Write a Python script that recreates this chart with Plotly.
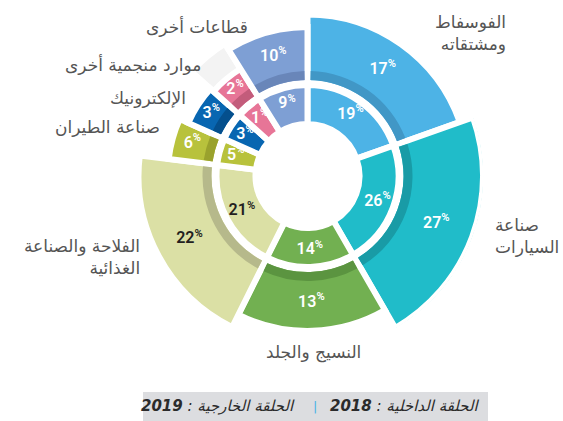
import math
import plotly.graph_objects as go

# ---------------- data ----------------
categories = ["الفوسفاط ومشتقاته", "صناعة السيارات", "النسيج والجلد",
              "الفلاحة والصناعة الغذائية", "صناعة الطيران", "الإلكترونيك",
              "موارد منجمية أخرى", "قطاعات أخرى"]
share_2019 = [17, 27, 13, 22, 6, 3, 2, 10]   # outer ring
share_2018 = [19, 26, 14, 21, 5, 3, 1, 9]    # inner ring
legend_inner = "2018"
legend_outer = "2019"

# ---------------- styling / layout ----------------
W, H = 563, 421
CX, CY = 307.5, 176.0          # pixel centre of the rose
RMAX = 176.0                   # radial units == pixels
sector_span_deg = [70.5, 79.5, 56.5, 70.5, 17, 18, 16, 32]
colors = ["#4db3e6", "#20bcc9", "#72b051", "#dbe0a5", "#b8c23c", "#0866b1", "#e77597", "#7e9fd4"]
band_colors = ["#4197c6", "#199ba6", "#5b9440", "#b6b98b", "#9aa22d", "#044f8d", "#c35c7b", "#6986b9"]
text_colors = ["white", "white", "white", "#231f20", "white", "white", "white", "white"]
GAP = 6                         # white gap width in px
INNER_R0, INNER_R1 = 55, 88
OUT_R0, BAND_R1 = 96, 105
K_OUT = 13.0                    # outer bar length ~ sqrt(share)

thetas = []
acc = 0.0
for s in sector_span_deg:
    thetas.append(acc + s / 2)
    acc += s

half = GAP / 2
outer_len = [BAND_R1 + K_OUT * math.sqrt(v) + half - (OUT_R0 - half) for v in share_2019]
outer_tip = [BAND_R1 + K_OUT * math.sqrt(v) for v in share_2019]

fig = go.Figure()

# ghost wedge behind "other mining"
mi = 6
fig.add_trace(go.Barpolar(
    theta=[thetas[mi]], width=[sector_span_deg[mi]], base=[OUT_R0 - half],
    r=[153 + half - (OUT_R0 - half)],
    marker=dict(color="#f3f3f3", line=dict(color="white", width=GAP)),
    hoverinfo="skip", showlegend=False))

# outer ring (2019)
fig.add_trace(go.Barpolar(
    theta=thetas, width=sector_span_deg, base=[OUT_R0 - half] * len(thetas), r=outer_len,
    marker=dict(color=colors, line=dict(color="white", width=GAP)),
    hovertext=categories, customdata=share_2019, showlegend=False))

# dark band at the inner edge of the outer ring
gap_deg = math.degrees(GAP / 100.0)
fig.add_trace(go.Barpolar(
    theta=thetas, width=[s - gap_deg for s in sector_span_deg],
    base=[OUT_R0] * len(thetas), r=[BAND_R1 - OUT_R0] * len(thetas),
    marker=dict(color=band_colors, line=dict(width=0)),
    hoverinfo="skip", showlegend=False))

# inner ring (2018)
fig.add_trace(go.Barpolar(
    theta=thetas, width=sector_span_deg, base=[INNER_R0 - half] * len(thetas),
    r=[INNER_R1 - INNER_R0 + GAP] * len(thetas),
    marker=dict(color=colors, line=dict(color="white", width=GAP)),
    hovertext=categories, customdata=share_2018, showlegend=False))

def pct(v):
    return f"{v}<sup>%</sup>"

# labels
pct_font = dict(family="Roboto", size=16, color=text_colors, weight=600)
fig.add_trace(go.Scatterpolar(
    theta=thetas, r=[(INNER_R0 + INNER_R1) / 2 + 3] * len(thetas), mode="text",
    text=[pct(v) for v in share_2018], textfont=pct_font,
    hoverinfo="skip", showlegend=False))
fig.add_trace(go.Scatterpolar(
    theta=thetas, r=[(OUT_R0 + t) / 2 + 3 for t in outer_tip], mode="text",
    text=[pct(v) for v in share_2019], textfont=pct_font,
    hoverinfo="skip", showlegend=False))

xd = [(CX - RMAX) / W, (CX + RMAX) / W]
yd = [(H - CY - RMAX) / H, min(1.0, (H - CY + RMAX) / H)]
fig.update_layout(
    width=W, height=H, autosize=False,
    margin=dict(l=0, r=0, t=0, b=0),
    paper_bgcolor="white", plot_bgcolor="white",
    polar=dict(
        domain=dict(x=xd, y=yd),
        bgcolor="rgba(0,0,0,0)",
        barmode="overlay",
        radialaxis=dict(range=[0, RMAX], visible=False),
        angularaxis=dict(visible=False, rotation=90, direction="clockwise",
                         thetaunit="degrees"),
    ),
)

# category labels
label_font = dict(family="DejaVu Sans", size=17, color="#555555")
cat_labels = [
    ("الفوسفاط<br>ومشتقاته", 508, 33, "right", "right"),
    ("صناعة<br>السيارات", 561, 236, "right", "left"),
    ("النسيج والجلد", 313, 352, "center", "center"),
    ("الفلاحة والصناعة<br>الغذائية", 142, 257, "right", "right"),
    ("صناعة الطيران", 162, 127, "right", "right"),
    ("الإلكترونيك", 188, 98, "right", "right"),
    ("موارد منجمية أخرى", 203, 65, "right", "right"),
    ("قطاعات أخرى", 250, 27, "right", "right"),
]
for txt, x, y, anc, al in cat_labels:
    fig.add_annotation(text=txt, x=x / W, y=(H - y) / H, xref="paper", yref="paper",
                       xanchor=anc, yanchor="middle", align=al, showarrow=False,
                       font=label_font)

# legend strip
fig.add_shape(type="rect", xref="paper", yref="paper",
              x0=143 / W, x1=488 / W, y0=0, y1=(H - 392) / H,
              fillcolor="#dcdde0", line=dict(width=0), layer="below")
leg_font = dict(family="DejaVu Sans", size=15, color="#2b2b2b")
fig.add_annotation(text=f"<i><b>{legend_inner}</b> : الحلقة الداخلية</i>",
                   x=482 / W, y=(H - 406) / H, xref="paper", yref="paper",
                   xanchor="right", yanchor="middle", showarrow=False, font=leg_font)
fig.add_annotation(text="|", x=315 / W, y=(H - 406) / H, xref="paper", yref="paper",
                   xanchor="center", yanchor="middle", showarrow=False,
                   font=dict(family="DejaVu Sans", size=13, color="#4db3e6"))
fig.add_annotation(text=f"<i><b>{legend_outer}</b> : الحلقة الخارجية</i>",
                   x=297 / W, y=(H - 406) / H, xref="paper", yref="paper",
                   xanchor="right", yanchor="middle", showarrow=False, font=leg_font)

fig.write_html("out.html", config={"displayModeBar": False},
               post_script="document.body.style.margin='0';")
